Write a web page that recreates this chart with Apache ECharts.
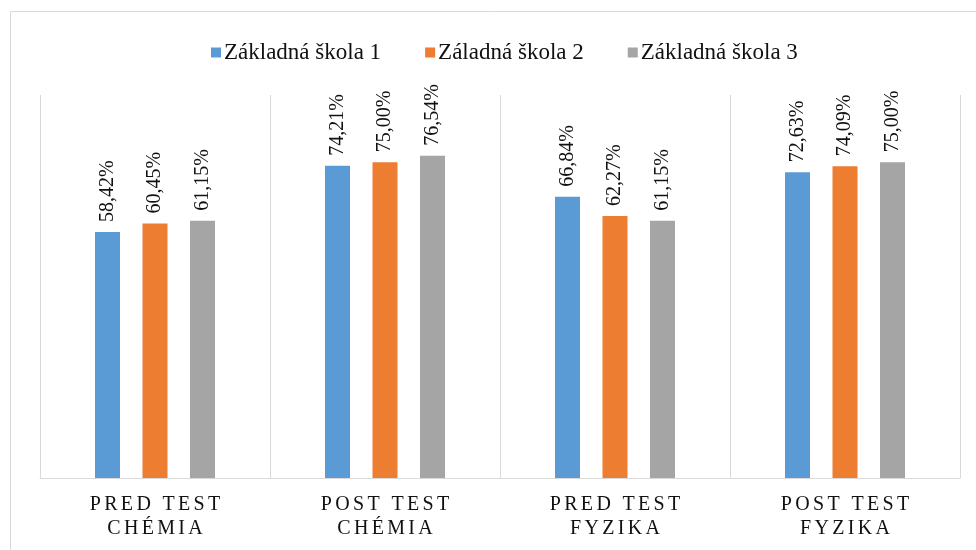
<!DOCTYPE html>
<html>
<head>
<meta charset="utf-8">
<script src="https://cdn.jsdelivr.net/npm/echarts@6/dist/echarts.min.js"></script>
<style>
  html, body { margin: 0; padding: 0; background: #fff; }
  #chart { width: 976px; height: 550px; }
</style>
</head>
<body>
<div id="chart"></div>
<script>
// kategórie a hodnoty (v %)
var categories = ['PRED TEST\nCHÉMIA', 'POST TEST\nCHÉMIA', 'PRED TEST\nFYZIKA', 'POST TEST\nFYZIKA'];
var seriesNames = ['Základná škola 1', 'Záladná škola 2', 'Základná škola 3'];
var skola1 = [58.42, 74.21, 66.84, 72.63];
var skola2 = [60.45, 75.00, 62.27, 74.09];
var skola3 = [61.15, 76.54, 61.15, 75.00];
var colors = ['#5b9bd5', '#ed7d31', '#a5a5a5'];

var serif = 'Times New Roman';

// rozostupy písmen pre popisy osi (six-per-em space)
function spaced(s) {
    return s.split('\n').map(function (line) {
        return line.split('').join('\u2006');
    }).join('\n');
}

function pct(v) {
    return v.toFixed(2).replace('.', ',') + '%';
}

var data = [skola1, skola2, skola3];
var series = data.map(function (vals, i) {
    return {
        name: seriesNames[i],
        type: 'bar',
        barWidth: 25,
        barGap: '90%',
        itemStyle: { color: colors[i] },
        label: {
            show: true,
            position: 'top',
            rotate: 90,
            align: 'left',
            verticalAlign: 'middle',
            distance: 10,
            fontFamily: serif,
            fontSize: 20,
            color: '#111',
            formatter: function (p) { return pct(p.value); }
        },
        data: vals
    };
});

var option = {
    animation: false,
    backgroundColor: '#fff',
    graphic: [{
        type: 'rect',
        silent: true,
        shape: { x: 10.5, y: 11.5, width: 1000, height: 600 },
        style: { fill: 'none', stroke: '#d9d9d9', lineWidth: 1 }
    }],
    legend: {
        top: 36,
        left: 206,
        itemWidth: 10,
        itemHeight: 10,
        itemGap: 44,
        icon: 'rect',
        textStyle: { fontFamily: serif, fontSize: 23, color: '#111', padding: [0, 0, 0, -2] },
        data: seriesNames
    },
    grid: { left: 40, right: 16, top: 95, bottom: 72 },
    xAxis: {
        type: 'category',
        data: categories.map(spaced),
        axisLine: { show: true, lineStyle: { color: '#d9d9d9', width: 1 } },
        axisTick: { show: false },
        splitLine: { show: true, interval: 0, lineStyle: { color: '#d9d9d9', width: 1 } },
        axisLabel: {
            interval: 0,
            margin: 15,
            fontFamily: serif,
            fontSize: 20,
            lineHeight: 24,
            color: '#111'
        }
    },
    yAxis: {
        type: 'value',
        min: 0,
        max: 91,
        show: false,
        splitLine: { show: false }
    },
    series: series
};

var chart = echarts.init(document.getElementById('chart'));
chart.setOption(option);
window.addEventListener('resize', function () { chart.resize(); });
</script>
</body>
</html>
